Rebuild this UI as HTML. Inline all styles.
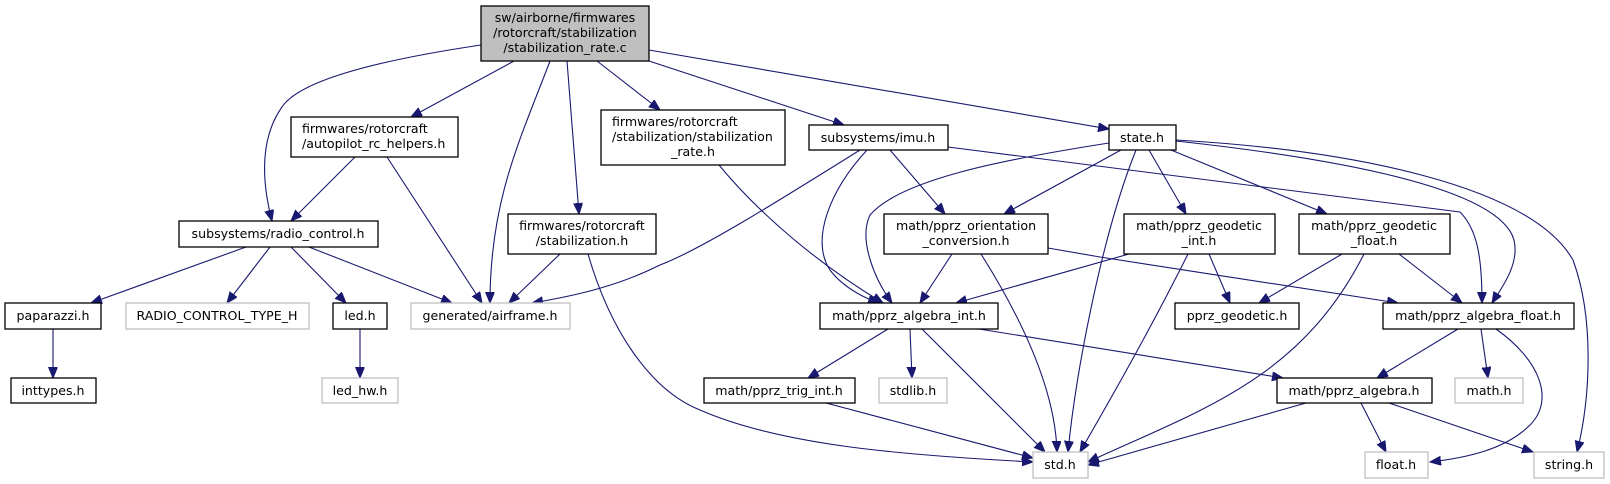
<!DOCTYPE html>
<html><head><meta charset="utf-8"><style>
html,body{margin:0;padding:0;background:#fff;}
svg{display:block;}
text{font-family:"DejaVu Sans","Liberation Sans",sans-serif;font-size:12.6px;fill:#000;text-anchor:middle;}
.n{fill:#fff;stroke:#000;stroke-width:1.3;}
.g{fill:#fff;stroke:#bfbfbf;stroke-width:1.3;}
.m{fill:#bfbfbf;stroke:#000;stroke-width:1.3;}
path{fill:none;stroke:#191970;stroke-width:1.1;marker-end:url(#a);}
</style></head><body>
<svg width="1610" height="484" viewBox="0 0 1610 484" xmlns="http://www.w3.org/2000/svg">
<defs><marker id="a" markerUnits="userSpaceOnUse" markerWidth="12" markerHeight="10" refX="11" refY="4.5" orient="auto"><polygon points="0,0 11,4.5 0,9" fill="#191970" stroke="#191970"/></marker></defs>

<!-- edges -->
<path d="M481,45 C380,60 300,80 282,107 C262,135 260,175 272,221"/>
<path d="M514,61 L411,117"/>
<path d="M550,61 C520,140 490,200 490,303"/>
<path d="M567,61 L579,214"/>
<path d="M597,61 L660,110"/>
<path d="M649,61 L844,125"/>
<path d="M649,50 L1109,129"/>
<path d="M355,157 L291,221"/>
<path d="M387,157 L482,303"/>
<path d="M246,247 L91,303"/>
<path d="M270,247 L227,303"/>
<path d="M291,247 L346,303"/>
<path d="M309,247 L452,303"/>
<path d="M53,329 L53,378"/>
<path d="M360,329 L360,378"/>
<path d="M560,254 L509,303"/>
<path d="M588,254 C610,330 650,390 700,410 C780,445 900,455 1033,462"/>
<path d="M719,165 C760,215 820,265 883,303"/>
<path d="M860,150 C780,200 700,250 660,265 C620,285 580,295 532,303"/>
<path d="M867,150 C830,190 810,240 830,270 C845,290 870,300 879,303"/>
<path d="M890,150 L945,214"/>
<path d="M948,147 L1460,212 C1478,230 1482,260 1482,303"/>
<path d="M1109,143 C1000,160 900,180 870,215 C858,240 875,280 892,303"/>
<path d="M1121,150 L1004,214"/>
<path d="M1136,150 C1100,240 1075,380 1068,452"/>
<path d="M981,254 C1010,300 1055,380 1057,452"/>
<path d="M922,329 L1045,452"/>
<path d="M1188,254 C1150,330 1110,400 1080,452"/>
<path d="M1364,254 C1300,380 1200,410 1088,462"/>
<path d="M1306,403 L1088,465"/>
<path d="M826,403 L1033,458"/>
<path d="M952,254 L920,303"/>
<path d="M1048,248 L1100,257 L1398,303"/>
<path d="M1129,254 L956,303"/>
<path d="M1209,254 L1230,303"/>
<path d="M1342,254 L1259,303"/>
<path d="M1399,254 L1462,303"/>
<path d="M1149,150 L1186,214"/>
<path d="M1171,150 L1327,214"/>
<path d="M1176,141 C1350,160 1500,190 1514,240 C1520,265 1500,290 1492,303"/>
<path d="M1176,140 C1350,150 1530,185 1573,260 C1595,320 1590,400 1577,452"/>
<path d="M888,329 L808,378"/>
<path d="M910,329 L912,378"/>
<path d="M979,329 L1283,378"/>
<path d="M1458,329 L1377,378"/>
<path d="M1481,329 L1488,378"/>
<path d="M1496,329 C1540,360 1555,400 1530,425 C1505,450 1465,458 1430,462"/>
<path d="M1361,403 L1386,452"/>
<path d="M1389,403 L1533,452"/>

<!-- nodes -->
<rect class="m" x="481" y="6" width="168" height="55"/>
<text x="565" y="22">sw/airborne/firmwares</text>
<text x="565" y="37">/rotorcraft/stabilization</text>
<text x="565" y="52">/stabilization_rate.c</text>

<rect class="n" x="291" y="117" width="167" height="40"/>
<text x="302" y="133" style="text-anchor:start">firmwares/rotorcraft</text>
<text x="302" y="148" style="text-anchor:start">/autopilot_rc_helpers.h</text>

<rect class="n" x="179" y="221" width="199" height="26"/>
<text x="278" y="238">subsystems/radio_control.h</text>

<rect class="n" x="5" y="303" width="96" height="26"/>
<text x="53" y="320">paparazzi.h</text>
<rect class="g" x="126" y="303" width="183" height="26"/>
<text x="217" y="320">RADIO_CONTROL_TYPE_H</text>
<rect class="n" x="333" y="303" width="54" height="26"/>
<text x="360" y="320">led.h</text>
<rect class="g" x="411" y="303" width="159" height="26"/>
<text x="490" y="320">generated/airframe.h</text>

<rect class="n" x="11" y="378" width="85" height="25"/>
<text x="53" y="395">inttypes.h</text>
<rect class="g" x="322" y="378" width="76" height="25"/>
<text x="360" y="395">led_hw.h</text>

<rect class="n" x="508" y="214" width="148" height="40"/>
<text x="582" y="230">firmwares/rotorcraft</text>
<text x="582" y="245">/stabilization.h</text>

<rect class="n" x="601" y="110" width="184" height="55"/>
<text x="612" y="126" style="text-anchor:start">firmwares/rotorcraft</text>
<text x="612" y="141" style="text-anchor:start">/stabilization/stabilization</text>
<text x="693" y="156">_rate.h</text>

<rect class="n" x="809" y="125" width="139" height="25"/>
<text x="878" y="142">subsystems/imu.h</text>
<rect class="n" x="1109" y="125" width="67" height="25"/>
<text x="1142" y="142">state.h</text>

<rect class="n" x="884" y="214" width="164" height="40"/>
<text x="966" y="230">math/pprz_orientation</text>
<text x="966" y="245">_conversion.h</text>
<rect class="n" x="1124" y="214" width="151" height="40"/>
<text x="1199" y="230">math/pprz_geodetic</text>
<text x="1199" y="245">_int.h</text>
<rect class="n" x="1299" y="214" width="151" height="40"/>
<text x="1374" y="230">math/pprz_geodetic</text>
<text x="1374" y="245">_float.h</text>

<rect class="n" x="820" y="303" width="178" height="26"/>
<text x="909" y="320">math/pprz_algebra_int.h</text>
<rect class="n" x="1175" y="303" width="124" height="26"/>
<text x="1237" y="320">pprz_geodetic.h</text>
<rect class="n" x="1383" y="303" width="191" height="26"/>
<text x="1478" y="320">math/pprz_algebra_float.h</text>

<rect class="n" x="704" y="378" width="151" height="25"/>
<text x="779" y="395">math/pprz_trig_int.h</text>
<rect class="g" x="879" y="378" width="68" height="25"/>
<text x="913" y="395">stdlib.h</text>
<rect class="n" x="1277" y="378" width="155" height="25"/>
<text x="1354" y="395">math/pprz_algebra.h</text>
<rect class="g" x="1455" y="378" width="68" height="25"/>
<text x="1489" y="395">math.h</text>

<rect class="g" x="1033" y="452" width="55" height="26"/>
<text x="1060" y="469">std.h</text>
<rect class="g" x="1365" y="452" width="63" height="26"/>
<text x="1396" y="469">float.h</text>
<rect class="g" x="1534" y="452" width="70" height="26"/>
<text x="1569" y="469">string.h</text>
</svg>
</body></html>
